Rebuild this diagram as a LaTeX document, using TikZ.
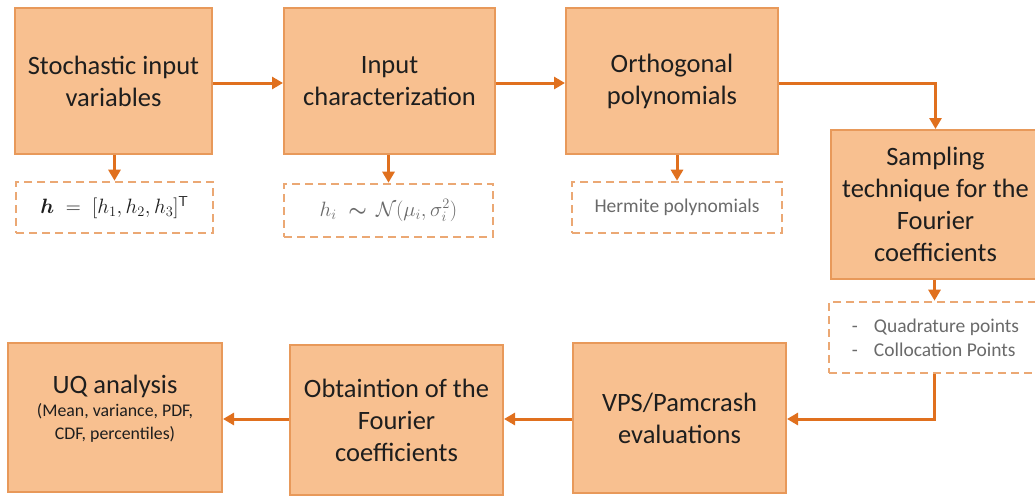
\documentclass[tikz,border=0pt]{standalone}
\usepackage{amsmath,bm}
\usepackage[no-math]{fontspec}
\setmainfont{Carlito}
\usetikzlibrary{arrows.meta}
\definecolor{boxfill}{HTML}{F8C090}
\definecolor{boxline}{HTML}{E8995A}
\definecolor{arrowc}{HTML}{E0701E}
\definecolor{dashc}{HTML}{EBA874}
\definecolor{txtc}{HTML}{1E1E1E}
\definecolor{greyt}{HTML}{6A6A6A}
\tikzset{
  mainbox/.style={draw=boxline, line width=2pt, fill=boxfill, text=txtc,
    align=center, font=\fontsize{26.5}{32}\selectfont, inner sep=0pt},
  dbox/.style={draw=dashc, line width=2.6pt, dash pattern=on 8pt off 5pt,
    fill=white, align=center, inner sep=0pt},
  conn/.style={draw=arrowc, line width=3pt, -{Triangle[length=11pt,width=12pt]}}
}
\begin{document}
\begin{tikzpicture}[x=1pt,y=-1pt]
\clip (0,0) rectangle (1035,498);
\fill[white] (0,0) rectangle (1035,498);
% top row
\node[mainbox, minimum width=197pt, minimum height=146pt] (b1) at (113.5,81) {Stochastic input\\variables};
\node[mainbox, minimum width=211pt, minimum height=146pt] (b2) at (389.5,81) {Input\\characterization};
\node[mainbox, minimum width=212pt, minimum height=146pt] (b3) at (672,81) {Orthogonal\\polynomials};
\node[mainbox, minimum width=209pt, minimum height=149pt] (b4) at (935.5,204.5) {Sampling\\technique for the\\Fourier\\coefficients};
% dashed boxes
\node[dbox, minimum width=197pt, minimum height=51pt, text=txtc, font=\fontsize{19.5}{22}\selectfont] (d1) at (114.5,207.5) {$\bm{h}\;=\;[h_1,h_2,h_3]^{\mathsf{T}}$};
\node[dbox, minimum width=209pt, minimum height=53pt, text=greyt, font=\fontsize{19.5}{22}\selectfont] (d2) at (388.5,210.5) {$h_i\;\bm{\sim}\,\mathcal{N}(\mu_i,\sigma_i^2)$};
\node[dbox, minimum width=210pt, minimum height=51pt, text=greyt, font=\fontsize{19.5}{22}\selectfont] (d3) at (677,207.5) {Hermite polynomials};
\node[dbox, minimum width=211pt, minimum height=71pt, text=greyt, font=\fontsize{19.5}{24}\selectfont, align=left] (d4) at (934.5,337.5) {\hspace{2pt}-\hspace{16pt}Quadrature points\\\hspace{2pt}-\hspace{16pt}Collocation Points};
% bottom row
\node[mainbox, minimum width=214pt, minimum height=149pt] (b5) at (115,417.5) {};
\node[text=txtc, align=center, inner sep=0pt, font=\fontsize{17.8}{23}\selectfont] (t5) at (115,409) {\fontsize{26.5}{28}\selectfont UQ analysis\\\fontsize{17.8}{23}\selectfont (Mean, variance, PDF,\\CDF, percentiles)};
\node[mainbox, minimum width=213pt, minimum height=150pt] (b6) at (396.5,420) {Obtaintion of the\\Fourier\\coefficients};
\node[mainbox, minimum width=213pt, minimum height=150pt] (b7) at (679.5,418) {VPS/Pamcrash\\evaluations};
% connectors
\draw[conn] (b1.east |- 0,83) -- (b2.west |- 0,83);
\draw[conn] (b2.east |- 0,83) -- (b3.west |- 0,83);
\draw[conn] (b3.east |- 0,83) -| (b4.north);
\draw[conn] (b1.south -| d1.north) -- (d1.north);
\draw[conn] (b2.south -| d2.north) -- (d2.north);
\draw[conn] (b3.south -| d3.north) -- (d3.north);
\draw[conn] (b4.south -| d4.north) -- (d4.north);
\draw[conn] (d4.south) |- (b7.east |- 0,419);
\draw[conn] (b7.west |- 0,419) -- (b6.east |- 0,419);
\draw[conn] (b6.west |- 0,419) -- (b5.east |- 0,419);
\end{tikzpicture}
\end{document}
